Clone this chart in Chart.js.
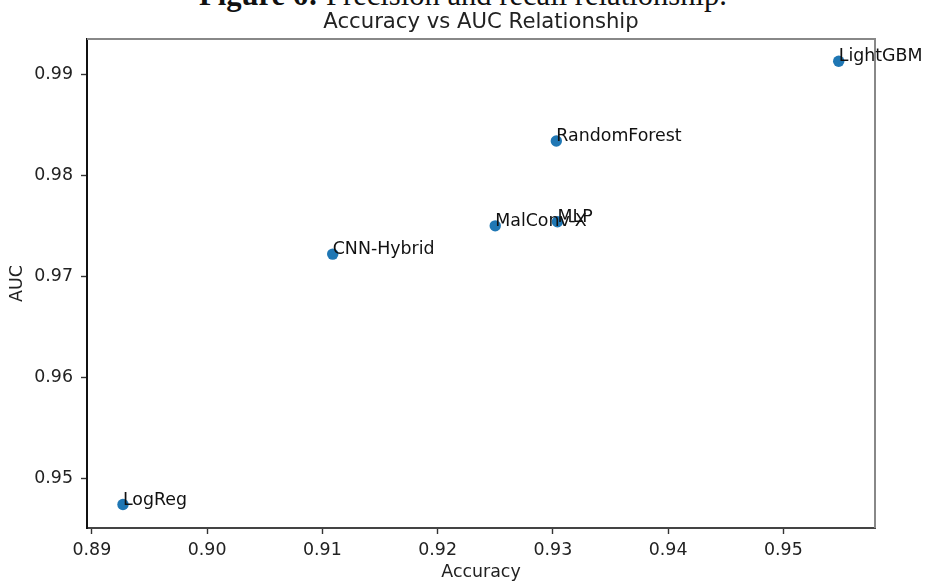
<!DOCTYPE html>
<html lang="en">
<head>
  <meta charset="UTF-8">
  <title>Accuracy vs AUC Relationship</title>
  <script src="https://cdn.jsdelivr.net/npm/chart.js"></script>
  <style>
    * {
      margin: 0;
      padding: 0;
      box-sizing: border-box;
    }

    body {
      width: 926px;
      height: 583px;
      overflow: hidden;
      background-color: #ffffff;
    }

    .wrap {
      position: relative;
      width: 926px;
      height: 583px;
    }

    .caption {
      position: absolute;
      left: 0;
      top: -20px;
      width: 926px;
      text-align: center;
      font-family: "Liberation Serif", serif;
      font-size: 30.6px;
      line-height: 30px;
      color: #111;
      white-space: nowrap;
    }

    #chartCanvas {
      position: absolute;
      left: 0;
      top: 0;
    }
  </style>
</head>

<body>
<div class="wrap">
  <div class="caption"><b>Figure 6:</b> Precision and recall relationship.</div>
  <canvas id="chartCanvas" width="926" height="583"></canvas>
</div>

<script>
  // 数据
  const models = ['LightGBM', 'RandomForest', 'MLP', 'MalConv-X', 'CNN-Hybrid', 'LogReg'];
  const accuracy = [0.9548, 0.9303, 0.9304, 0.9250, 0.9109, 0.8927];
  const auc = [0.9913, 0.9834, 0.9754, 0.9750, 0.9722, 0.9474];

  const xTicks = [0.89, 0.90, 0.91, 0.92, 0.93, 0.94, 0.95];
  const yTicks = [0.95, 0.96, 0.97, 0.98, 0.99];

  const titleText = 'Accuracy vs AUC Relationship';
  const xTitle = 'Accuracy';
  const yTitle = 'AUC';

  const FONT = '"DejaVu Sans", sans-serif';
  const TEXT_COLOR = '#222';
  const SIZE = 17.4;

  // 标题、上/右边框、点标注
  const decorations = {
    id: 'decorations',
    afterDraw(chart) {
      const {ctx, chartArea: a, scales} = chart;
      ctx.save();

      ctx.strokeStyle = '#888';
      ctx.lineWidth = 2;
      ctx.beginPath();
      ctx.moveTo(a.left, a.top);
      ctx.lineTo(a.right, a.top);
      ctx.lineTo(a.right, a.bottom);
      ctx.stroke();

      ctx.fillStyle = TEXT_COLOR;
      ctx.font = '21.2px ' + FONT;
      ctx.textAlign = 'center';
      ctx.textBaseline = 'alphabetic';
      ctx.fillText(titleText, (a.left + a.right) / 2, 28);

      ctx.font = SIZE + 'px ' + FONT;
      ctx.textAlign = 'left';
      ctx.fillStyle = '#111';
      models.forEach((name, i) => {
        const x = scales.x.getPixelForValue(accuracy[i]);
        const y = scales.y.getPixelForValue(auc[i]);
        ctx.fillText(name, x, y);
      });
      ctx.restore();
    }
  };

  const ctx = document.getElementById('chartCanvas').getContext('2d');

  const data = {
    datasets: [{
      label: 'Models',
      data: models.map((_, i) => ({x: accuracy[i], y: auc[i]})),
      backgroundColor: '#1f77b4',
      borderColor: '#1f77b4',
      borderWidth: 0,
      pointRadius: 5.7,
      pointHoverRadius: 5.7
    }]
  };

  const config = {
    type: 'scatter',
    data: data,
    options: {
      responsive: false,
      animation: false,
      devicePixelRatio: 1,
      layout: {
        padding: {top: 39, right: 51, bottom: 0, left: 0}
      },
      plugins: {
        legend: {display: false},
        tooltip: {enabled: false},
        title: {display: false}
      },
      scales: {
        x: {
          type: 'linear',
          min: 0.88958,
          max: 0.95795,
          afterFit: (scale) => { scale.height = 55; },
          afterBuildTicks: (scale) => { scale.ticks = xTicks.map(v => ({value: v})); },
          grid: {
            drawOnChartArea: false,
            drawTicks: true,
            tickLength: 6,
            tickColor: '#333',
            tickWidth: 1.4
          },
          border: {display: true, color: '#444', width: 2},
          ticks: {
            padding: 6,
            color: TEXT_COLOR,
            font: {family: FONT, size: SIZE},
            callback: (v) => v.toFixed(2)
          },
          title: {
            display: true,
            text: xTitle,
            color: TEXT_COLOR,
            font: {family: FONT, size: SIZE},
            padding: {top: 0, bottom: 0}
          }
        },
        y: {
          type: 'linear',
          min: 0.94508,
          max: 0.99350,
          afterFit: (scale) => { scale.width = 87; },
          afterBuildTicks: (scale) => { scale.ticks = yTicks.map(v => ({value: v})); },
          grid: {
            drawOnChartArea: false,
            drawTicks: true,
            tickLength: 6,
            tickColor: '#333',
            tickWidth: 1.4
          },
          border: {display: true, color: '#111', width: 2},
          ticks: {
            padding: 8,
            color: TEXT_COLOR,
            font: {family: FONT, size: SIZE},
            callback: (v) => v.toFixed(2)
          },
          title: {
            display: true,
            text: yTitle,
            color: TEXT_COLOR,
            font: {family: FONT, size: SIZE},
            padding: {top: 7, bottom: 0}
          }
        }
      }
    },
    plugins: [decorations]
  };

  const chart = new Chart(ctx, config);
</script>
</body>
</html>
